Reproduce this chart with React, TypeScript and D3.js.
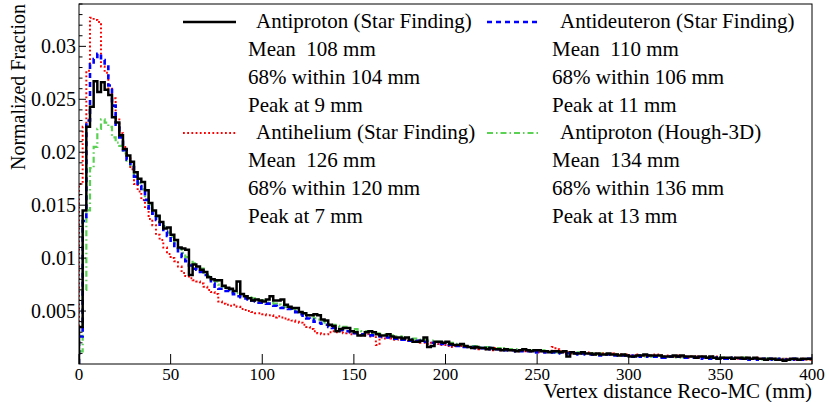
import * as d3 from 'd3'
import { useEffect, useRef } from 'react'

// bin width 2 mm, 200 bins from 0 to 400 mm
const binWidth = 2
const xTicks = [0, 50, 100, 150, 200, 250, 300, 350, 400]
const yTicks = [0.005, 0.01, 0.015, 0.02, 0.025, 0.03]
const yTickLabels = ['0.005', '0.01', '0.015', '0.02', '0.025', '0.03']

const antiprotonStar = [
  0.0035, 0.0145, 0.0224, 0.0243, 0.0267, 0.0257, 0.0266, 0.0259, 0.0254, 0.0233,
  0.0228, 0.0216, 0.0203, 0.0197, 0.0191, 0.0181, 0.0175, 0.0172, 0.0164, 0.0152,
  0.0145, 0.0140, 0.0134, 0.0128, 0.0129, 0.0122, 0.0117, 0.0110, 0.0109, 0.0108,
  0.0084, 0.0094, 0.0092, 0.0089, 0.0087, 0.0082, 0.0080, 0.0079, 0.0079, 0.0074,
  0.0072, 0.0071, 0.0069, 0.0078, 0.0066, 0.0064, 0.0062, 0.0060, 0.0061, 0.0060,
  0.0059, 0.0061, 0.0064, 0.0060, 0.0060, 0.0061, 0.0056, 0.0054, 0.0053, 0.0053,
  0.0049, 0.0048, 0.0046, 0.0046, 0.0047, 0.0046, 0.0042, 0.0041, 0.0037, 0.0036,
  0.0031, 0.0033, 0.0034, 0.0034, 0.0031, 0.0030, 0.0027, 0.0027, 0.0030, 0.0031,
  0.0030, 0.0028, 0.0027, 0.0027, 0.0028, 0.0026, 0.0025, 0.0025, 0.0024, 0.0025,
  0.0023, 0.0021, 0.0021, 0.0022, 0.0025, 0.0016, 0.0017, 0.0021, 0.0021, 0.0020,
  0.0021, 0.0019, 0.0018, 0.0018, 0.0019, 0.0017, 0.0016, 0.0015, 0.0016, 0.0015,
  0.0015, 0.0014, 0.0015, 0.0014, 0.0014, 0.0013, 0.0014, 0.0013, 0.0013, 0.0012,
  0.0013, 0.0014, 0.0013, 0.0012, 0.0013, 0.0013, 0.0012, 0.0012, 0.0011, 0.0012,
  0.0012, 0.0011, 0.0012, 0.0007, 0.0011, 0.0010, 0.0010, 0.0011, 0.0010, 0.0010,
  0.0009, 0.0010, 0.0009, 0.0009, 0.0010, 0.0009, 0.0009, 0.0008, 0.0009, 0.0008,
  0.0007, 0.0007, 0.0008, 0.0008, 0.0009, 0.0008, 0.0008, 0.0008, 0.0008, 0.0007,
  0.0007, 0.0007, 0.0008, 0.0007, 0.0008, 0.0007, 0.0007, 0.0007, 0.0006, 0.0007,
  0.0007, 0.0006, 0.0007, 0.0006, 0.0005, 0.0006, 0.0006, 0.0006, 0.0005, 0.0006,
  0.0006, 0.0005, 0.0006, 0.0005, 0.0006, 0.0005, 0.0005, 0.0004, 0.0005, 0.0005,
  0.0004, 0.0004, 0.0003, 0.0004, 0.0005, 0.0005, 0.0004, 0.0005, 0.0005, 0.0005,
]

const antideuteronStar = [
  0.0026, 0.0135, 0.0230, 0.0283, 0.0288, 0.0293, 0.0287, 0.0281, 0.0263, 0.0244,
  0.0226, 0.0214, 0.0202, 0.0193, 0.0186, 0.0177, 0.0168, 0.0163, 0.0155, 0.0147,
  0.0142, 0.0136, 0.0130, 0.0125, 0.0121, 0.0115, 0.0110, 0.0104, 0.0101, 0.0097,
  0.0093, 0.0090, 0.0089, 0.0087, 0.0084, 0.0081, 0.0076, 0.0073, 0.0071, 0.0071,
  0.0069, 0.0067, 0.0066, 0.0064, 0.0063, 0.0062, 0.0061, 0.0060, 0.0059, 0.0058,
  0.0058, 0.0057, 0.0057, 0.0055, 0.0054, 0.0053, 0.0053, 0.0052, 0.0051, 0.0049,
  0.0047, 0.0044, 0.0043, 0.0042, 0.0040, 0.0039, 0.0038, 0.0037, 0.0035, 0.0034,
  0.0033, 0.0032, 0.0031, 0.0031, 0.0030, 0.0029, 0.0029, 0.0028, 0.0028, 0.0027,
  0.0027, 0.0027, 0.0026, 0.0026, 0.0025, 0.0025, 0.0024, 0.0024, 0.0023, 0.0023,
  0.0022, 0.0023, 0.0022, 0.0021, 0.0021, 0.0020, 0.0020, 0.0019, 0.0019, 0.0019,
  0.0018, 0.0018, 0.0018, 0.0017, 0.0017, 0.0016, 0.0016, 0.0016, 0.0015, 0.0015,
  0.0015, 0.0014, 0.0015, 0.0014, 0.0014, 0.0013, 0.0013, 0.0013, 0.0013, 0.0012,
  0.0012, 0.0013, 0.0012, 0.0012, 0.0011, 0.0012, 0.0012, 0.0011, 0.0011, 0.0011,
  0.0010, 0.0011, 0.0011, 0.0010, 0.0010, 0.0010, 0.0009, 0.0010, 0.0009, 0.0009,
  0.0009, 0.0009, 0.0008, 0.0009, 0.0009, 0.0008, 0.0008, 0.0008, 0.0008, 0.0008,
  0.0008, 0.0007, 0.0008, 0.0007, 0.0007, 0.0008, 0.0007, 0.0007, 0.0007, 0.0006,
  0.0007, 0.0007, 0.0006, 0.0007, 0.0006, 0.0006, 0.0006, 0.0006, 0.0006, 0.0005,
  0.0006, 0.0006, 0.0005, 0.0006, 0.0005, 0.0005, 0.0005, 0.0006, 0.0005, 0.0005,
  0.0005, 0.0005, 0.0004, 0.0005, 0.0005, 0.0004, 0.0005, 0.0004, 0.0005, 0.0004,
  0.0004, 0.0005, 0.0004, 0.0004, 0.0004, 0.0005, 0.0004, 0.0004, 0.0004, 0.0005,
]

const antiheliumStar = [
  0.0170, 0.0224, 0.0277, 0.0327, 0.0325, 0.0323, 0.0281, 0.0275, 0.0260, 0.0251,
  0.0232, 0.0218, 0.0205, 0.0194, 0.0184, 0.0170, 0.0163, 0.0155, 0.0147, 0.0137,
  0.0131, 0.0122, 0.0117, 0.0110, 0.0104, 0.0100, 0.0097, 0.0092, 0.0086, 0.0083,
  0.0081, 0.0079, 0.0078, 0.0076, 0.0073, 0.0070, 0.0068, 0.0066, 0.0059, 0.0057,
  0.0056, 0.0055, 0.0056, 0.0054, 0.0052, 0.0051, 0.0050, 0.0049, 0.0048, 0.0048,
  0.0047, 0.0046, 0.0046, 0.0044, 0.0045, 0.0044, 0.0043, 0.0042, 0.0041, 0.0040,
  0.0039, 0.0037, 0.0035, 0.0033, 0.0031, 0.0029, 0.0028, 0.0028, 0.0030, 0.0031,
  0.0030, 0.0031, 0.0029, 0.0030, 0.0028, 0.0029, 0.0028, 0.0027, 0.0028, 0.0026,
  0.0027, 0.0018, 0.0025, 0.0024, 0.0025, 0.0024, 0.0023, 0.0024, 0.0023, 0.0022,
  0.0022, 0.0021, 0.0022, 0.0020, 0.0020, 0.0019, 0.0020, 0.0019, 0.0018, 0.0018,
  0.0017, 0.0016, 0.0017, 0.0018, 0.0017, 0.0016, 0.0016, 0.0015, 0.0015, 0.0014,
  0.0015, 0.0014, 0.0013, 0.0015, 0.0014, 0.0013, 0.0014, 0.0013, 0.0013, 0.0012,
  0.0013, 0.0012, 0.0013, 0.0012, 0.0012, 0.0011, 0.0012, 0.0011, 0.0012, 0.0016,
  0.0014, 0.0012, 0.0011, 0.0011, 0.0010, 0.0011, 0.0010, 0.0010, 0.0011, 0.0010,
  0.0010, 0.0009, 0.0010, 0.0009, 0.0009, 0.0010, 0.0009, 0.0009, 0.0008, 0.0009,
  0.0008, 0.0008, 0.0009, 0.0008, 0.0008, 0.0007, 0.0008, 0.0009, 0.0008, 0.0007,
  0.0008, 0.0007, 0.0007, 0.0008, 0.0007, 0.0007, 0.0006, 0.0007, 0.0007, 0.0006,
  0.0007, 0.0006, 0.0006, 0.0007, 0.0006, 0.0006, 0.0005, 0.0006, 0.0006, 0.0005,
  0.0006, 0.0005, 0.0006, 0.0005, 0.0005, 0.0006, 0.0005, 0.0005, 0.0004, 0.0005,
  0.0005, 0.0004, 0.0005, 0.0004, 0.0005, 0.0004, 0.0004, 0.0005, 0.0004, 0.0004,
]

const antiprotonHough = [
  0.0012, 0.0070, 0.0145, 0.0185, 0.0205, 0.0222, 0.0231, 0.0228, 0.0224, 0.0214,
  0.0209, 0.0206, 0.0199, 0.0192, 0.0186, 0.0178, 0.0171, 0.0165, 0.0157, 0.0150,
  0.0144, 0.0139, 0.0134, 0.0130, 0.0124, 0.0120, 0.0114, 0.0109, 0.0105, 0.0101,
  0.0098, 0.0095, 0.0091, 0.0090, 0.0085, 0.0083, 0.0080, 0.0078, 0.0075, 0.0073,
  0.0071, 0.0070, 0.0068, 0.0067, 0.0066, 0.0065, 0.0063, 0.0062, 0.0061, 0.0060,
  0.0060, 0.0058, 0.0058, 0.0057, 0.0056, 0.0055, 0.0054, 0.0053, 0.0052, 0.0050,
  0.0049, 0.0048, 0.0046, 0.0045, 0.0043, 0.0042, 0.0041, 0.0039, 0.0038, 0.0037,
  0.0036, 0.0035, 0.0035, 0.0034, 0.0033, 0.0033, 0.0032, 0.0031, 0.0031, 0.0030,
  0.0029, 0.0029, 0.0028, 0.0028, 0.0027, 0.0027, 0.0026, 0.0026, 0.0025, 0.0025,
  0.0024, 0.0024, 0.0023, 0.0023, 0.0023, 0.0022, 0.0022, 0.0021, 0.0021, 0.0020,
  0.0020, 0.0020, 0.0019, 0.0019, 0.0018, 0.0018, 0.0017, 0.0017, 0.0017, 0.0016,
  0.0016, 0.0016, 0.0015, 0.0015, 0.0015, 0.0014, 0.0015, 0.0014, 0.0014, 0.0014,
  0.0013, 0.0014, 0.0013, 0.0013, 0.0013, 0.0012, 0.0013, 0.0012, 0.0012, 0.0012,
  0.0011, 0.0012, 0.0011, 0.0011, 0.0011, 0.0010, 0.0011, 0.0010, 0.0010, 0.0010,
  0.0010, 0.0009, 0.0010, 0.0009, 0.0009, 0.0009, 0.0009, 0.0008, 0.0009, 0.0008,
  0.0008, 0.0008, 0.0008, 0.0008, 0.0007, 0.0008, 0.0007, 0.0007, 0.0008, 0.0007,
  0.0007, 0.0007, 0.0007, 0.0006, 0.0007, 0.0006, 0.0007, 0.0006, 0.0006, 0.0006,
  0.0006, 0.0006, 0.0006, 0.0005, 0.0006, 0.0006, 0.0005, 0.0006, 0.0005, 0.0005,
  0.0005, 0.0006, 0.0005, 0.0005, 0.0005, 0.0005, 0.0004, 0.0005, 0.0005, 0.0004,
  0.0005, 0.0004, 0.0005, 0.0004, 0.0004, 0.0005, 0.0004, 0.0004, 0.0004, 0.0004,
]

const seriesNames = [
  'Antiproton (Star Finding)',
  'Antideuteron (Star Finding)',
  'Antihelium (Star Finding)',
  'Antiproton (Hough-3D)',
]
const means = [108, 110, 126, 134]
const within68 = [104, 106, 120, 136]
const peaks = [9, 11, 7, 13]

const seriesStyles = [
  { color: '#000000', width: 2.5, dash: null },
  { color: '#0000ff', width: 2.6, dash: '5 4' },
  { color: '#ff0000', width: 2, dash: '1.8 2.4' },
  { color: '#5ad152', width: 2.2, dash: '6 3 1.5 3' },
]

export default function App() {
  const svgRef = useRef(null)
  const width = 825
  const height = 402

  useEffect(() => {
    const svg = d3.select(svgRef.current)
    svg.selectAll('*').remove()

    const x = d3.scaleLinear().domain([0, 400]).range([79, 812])
    const y = d3.scaleLinear().domain([0, 0.034]).range([364, 4])
    const font = "'Liberation Serif', 'Times New Roman', serif"

    svg.append('rect').attr('width', width).attr('height', height).attr('fill', 'white')

    svg.append('defs').append('clipPath').attr('id', 'plot-clip')
      .append('rect').attr('x', 79).attr('y', 4).attr('width', 733).attr('height', 360)

    // histograms
    const allSeries = [antiprotonStar, antideuteronStar, antiheliumStar, antiprotonHough]
    const line = d3.line<[number, number]>()
      .x(d => x(d[0]))
      .y(d => y(d[1]))
      .curve(d3.curveStepAfter)

    const g = svg.append('g').attr('clip-path', 'url(#plot-clip)')
    // green first, black last on top
    const order = [3, 2, 1, 0]
    order.forEach(k => {
      const vals = allSeries[k]
      const pts: [number, number][] = vals.map((v, i) => [i * binWidth, v])
      pts.unshift([0, 0])
      pts.push([vals.length * binWidth, vals[vals.length - 1]])
      const st = seriesStyles[k]
      g.append('path')
        .attr('d', line(pts))
        .attr('fill', 'none')
        .attr('stroke', st.color)
        .attr('stroke-width', st.width)
        .attr('stroke-dasharray', st.dash)
    })

    // frame
    svg.append('rect')
      .attr('x', 79).attr('y', 4).attr('width', 733).attr('height', 360)
      .attr('fill', 'none').attr('stroke', 'black').attr('stroke-width', 1)

    // y axis ticks, minor every 0.001
    const minor = d3.range(1, 35).map(i => i * 0.001)
    svg.append('g').selectAll('line').data(minor).join('line')
      .attr('x1', 79).attr('x2', d => (Math.round(d * 1000) % 5 === 0 ? 86 : 82.5))
      .attr('y1', d => y(d)).attr('y2', d => y(d))
      .attr('stroke', 'black').attr('stroke-width', 1)

    svg.append('g').selectAll('text').data(yTicks).join('text')
      .attr('x', 76).attr('y', d => y(d) + 7)
      .attr('text-anchor', 'end')
      .attr('font-family', font).attr('font-size', 20)
      .text((d, i) => yTickLabels[i])

    // x axis ticks
    svg.append('g').selectAll('line').data(xTicks).join('line')
      .attr('x1', d => x(d)).attr('x2', d => x(d))
      .attr('y1', 364).attr('y2', 354)
      .attr('stroke', 'black').attr('stroke-width', 1)

    svg.append('g').selectAll('text').data(xTicks).join('text')
      .attr('x', d => x(d)).attr('y', 380)
      .attr('text-anchor', 'middle')
      .attr('font-family', font).attr('font-size', 17)
      .text(d => d)

    // axis titles
    svg.append('text')
      .attr('x', 812).attr('y', 398)
      .attr('text-anchor', 'end')
      .attr('font-family', font).attr('font-size', 21)
      .text('Vertex distance Reco-MC (mm)')

    svg.append('text')
      .attr('transform', 'translate(25,4) rotate(-90)')
      .attr('text-anchor', 'end')
      .attr('font-family', font).attr('font-size', 20)
      .text('Normalized Fraction')

    // legend, two columns
    const colX = [183, 487]
    const rowBase = [28, 139]
    const step = 28
    allSeries.forEach((_, k) => {
      const cx = colX[k % 2]
      const by = rowBase[Math.floor(k / 2)]
      const st = seriesStyles[k]
      const lg = svg.append('g')
      lg.append('line')
        .attr('x1', cx).attr('x2', cx + 53)
        .attr('y1', by - 6).attr('y2', by - 6)
        .attr('stroke', st.color).attr('stroke-width', st.width)
        .attr('stroke-dasharray', st.dash)
      const lines = [
        { t: seriesNames[k], dx: 73 },
        { t: `Mean  ${means[k]} mm`, dx: 65 },
        { t: `68% within ${within68[k]} mm`, dx: 65 },
        { t: `Peak at ${peaks[k]} mm`, dx: 65 },
      ]
      lines.forEach((l, i) => {
        lg.append('text')
          .attr('x', cx + l.dx).attr('y', by + i * step)
          .attr('font-family', font).attr('font-size', 21)
          .style('white-space', 'pre')
          .text(l.t)
      })
    })
  }, [])

  return (
    <div style={{ position: 'absolute', left: 0, top: 0 }}>
      <svg ref={svgRef} width={width} height={height} style={{ display: 'block' }}></svg>
    </div>
  )
}
